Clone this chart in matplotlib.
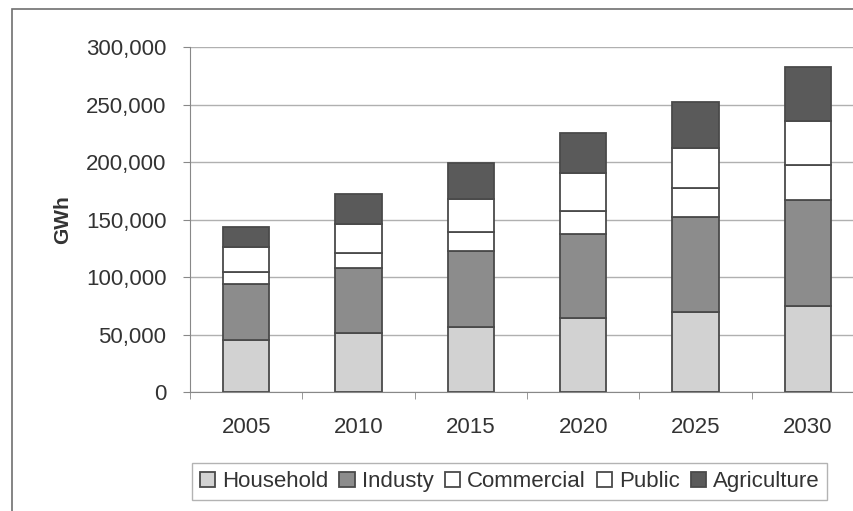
import matplotlib.pyplot as plt
import matplotlib.patches as mpatches
import numpy as np

# data (GWh)
years = ["2005", "2010", "2015", "2020", "2025", "2030"]
household = [45200, 51000, 56800, 64100, 69800, 75100]
industry = [48700, 57100, 66100, 73000, 82700, 91900]
commercial = [10200, 12500, 16500, 20300, 24600, 30400]
public = [21700, 25200, 28400, 32700, 34800, 38500]
agriculture = [17400, 26400, 31200, 35400, 40600, 46700]

series = ["Household", "Industy", "Commercial", "Public", "Agriculture"]
colors = ["#d2d2d2", "#8c8c8c", "#ffffff", "#ffffff", "#5a5a5a"]
edge = "#4a4a4a"

plt.rcParams['font.family'] = ['Liberation Sans', 'DejaVu Sans']

fig = plt.figure(figsize=(8.54, 5.11), dpi=100)
# outer frame of the chart
fig.patches.append(mpatches.Rectangle((12 / 854, -5 / 511), 860 / 854, 507 / 511,
                                      transform=fig.transFigure, fill=False,
                                      edgecolor="#707070", linewidth=1.2))

ax = fig.add_axes([190 / 854, 1 - 392 / 511, 674 / 854, 345 / 511])

x = np.arange(len(years))
bottom = np.zeros(len(years))
for name, vals, c in zip(series, [household, industry, commercial, public, agriculture], colors):
    ax.bar(x, vals, width=0.41, bottom=bottom, color=c, edgecolor=edge,
           linewidth=1.3, label=name, zorder=3)
    bottom += np.array(vals)

ax.set_xlim(-0.5, len(years) - 0.5)
ax.set_ylim(0, 300000)
ax.set_yticks(np.arange(0, 300001, 50000))
ax.set_yticklabels([f"{v:,}" for v in range(0, 300001, 50000)])
ax.set_xticks(x)
ax.set_xticklabels(years)
ax.set_xticks(np.arange(-0.5, len(years), 1), minor=True)
ax.tick_params(axis="x", which="major", length=0, pad=18, labelsize=16, labelcolor="#333333")
ax.tick_params(axis="x", which="minor", length=5, color="#888888")
ax.tick_params(axis="y", length=5, color="#888888", labelsize=16, labelcolor="#333333", pad=12)

ax.grid(axis="y", color="#b0b0b0", linewidth=1.0, zorder=0)
for s in ["top", "right"]:
    ax.spines[s].set_visible(False)
ax.spines["left"].set_color("#888888")
ax.spines["bottom"].set_color("#888888")

ax.set_ylabel("GWh", fontsize=15, fontweight="bold", color="#333333", labelpad=10)

leg = fig.legend(loc="lower left", bbox_to_anchor=(181 / 854, 0 / 511), ncol=5,
                 fontsize=16, frameon=True, fancybox=False, edgecolor="#a0a0a0",
                 handlelength=0.7, handleheight=0.7, handletextpad=0.3,
                 columnspacing=0.5, borderpad=0.35)
for t in leg.get_texts():
    t.set_color("#333333")

fig.savefig("out.png", dpi=100)
